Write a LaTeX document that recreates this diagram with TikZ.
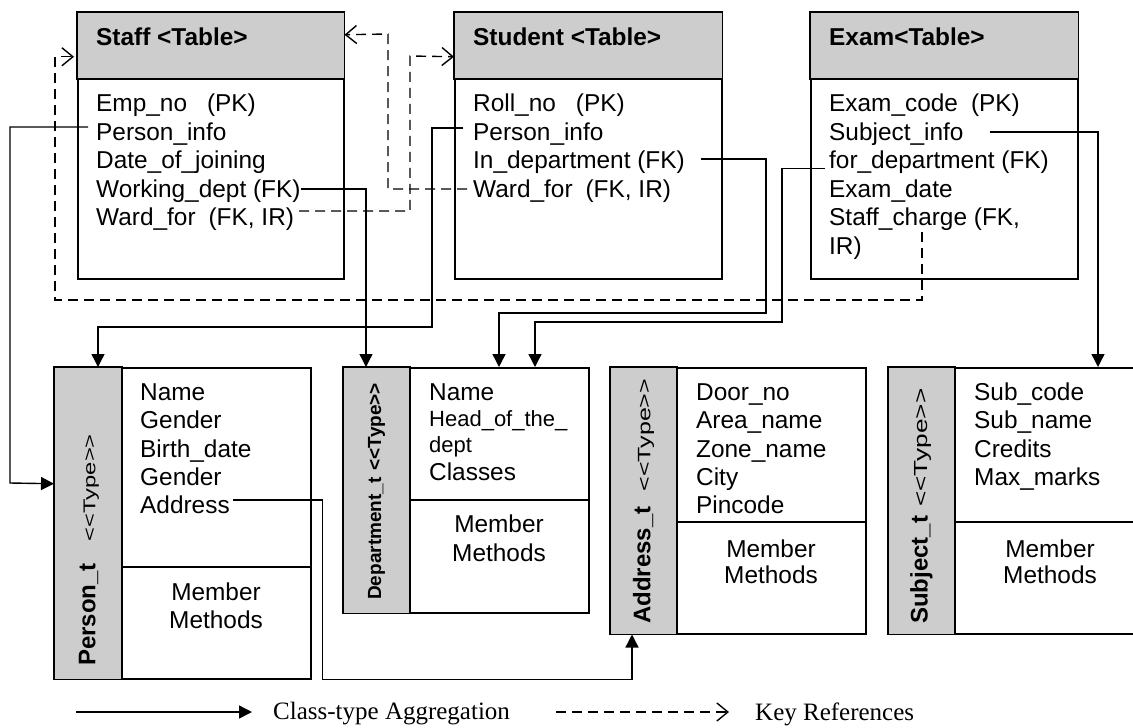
\documentclass[tikz,border=0pt]{standalone}
\usepackage{fontspec}
\usepackage{graphicx}
\setmainfont{Liberation Sans}
\newfontfamily\serifleg{Liberation Serif}
\usetikzlibrary{arrows.meta}
\definecolor{hdrgray}{RGB}{205,205,205}
\tikzset{
  tbl/.style={draw, line width=1.5pt, inner sep=0pt, anchor=north west, fill=white},
  hdrfill/.style={fill=hdrgray, draw=black, line width=1.5pt},
  divider/.style={line width=1.5pt},
  row/.style={anchor=base west, inner sep=0pt, font=\fontsize{24.4}{28}\selectfont},
  smallrow/.style={anchor=base west, inner sep=0pt, font=\fontsize{22}{26}\selectfont},
  hd/.style={anchor=base west, inner sep=0pt, font=\bfseries\fontsize{24.4}{28}\selectfont},
  mm/.style={anchor=base, inner sep=0pt, font=\fontsize{24.4}{28}\selectfont},
  lab/.style={rotate=90, anchor=west, inner sep=0pt},
  legt/.style={anchor=west, inner sep=0pt, font=\serifleg\fontsize{25}{30}\selectfont},
  agg/.style={line width=1.4pt, -{Triangle[length=13pt,width=13pt]}},
  kref/.style={line width=1.4pt, dash pattern=on 10pt off 6pt, -{Straight Barb[length=11pt,width=18pt,line width=1.4pt]}}
}
\newcommand{\typeword}{<\kern0pt<Type>\kern0pt>}
\newcommand{\typetag}[1]{\mdseries\fontsize{#1}{#1}\selectfont\scalebox{1.25}[0.9]{\typeword}}
\begin{document}
\begin{tikzpicture}[x=1pt,y=-1pt]
\useasboundingbox (0,0) rectangle (1133,728);

% ---------- top tables ----------
\node[tbl, minimum width=266pt, minimum height=266pt] (staff) at (77,12) {};
\filldraw[hdrfill] (staff.north west) rectangle ([yshift=-67pt]staff.north east);
\node[tbl, minimum width=267pt, minimum height=266pt] (student) at (454,12) {};
\filldraw[hdrfill] (student.north west) rectangle ([yshift=-67pt]student.north east);
\node[tbl, minimum width=267pt, minimum height=266pt] (exam) at (810,12) {};
\filldraw[hdrfill] (exam.north west) rectangle ([yshift=-67pt]exam.north east);

\node[hd] (staffh) at (96,45) {Staff <Table>};
\node[hd] (studenth) at (473,45) {Student <Table>};
\node[hd] (examh) at (829,45) {Exam<Table>};

\node[row] (s1) at (96,111) {Emp\_no\hspace{20pt}(PK)};
\node[row] (s2) at (96,140) {Person\_info};
\node[row] (s3) at (96,168.5) {Date\_of\_joining};
\node[row] (s4) at (96,197) {Working\_dept (FK)};
\node[row] (s5) at (96,225.5) {Ward\_for\hspace{13pt}(FK, IR)};

\node[row] (t1) at (473,111) {Roll\_no\hspace{20pt}(PK)};
\node[row] (t2) at (473,140) {Person\_info};
\node[row] (t3) at (473,168.5) {In\_department (FK)};
\node[row] (t4) at (473,197) {Ward\_for\hspace{13pt}(FK, IR)};

\node[row] (e1) at (829,111) {Exam\_code\hspace{13pt}(PK)};
\node[row] (e2) at (829,140) {Subject\_info};
\node[row] (e3) at (829,168.5) {for\_department (FK)};
\node[row] (e4) at (829,197) {Exam\_date};
\node[row] (e5) at (829,225.5) {Staff\_charge (FK,};
\node[row] (e6) at (829,254) {IR)};

% ---------- bottom types ----------
\node[tbl, minimum width=256pt, minimum height=311pt] (person) at (54,367) {};
\filldraw[hdrfill] (person.north west) rectangle ([xshift=68pt]person.south west);
\draw[divider] ([xshift=68pt,yshift=-200pt]person.north west) -- ([yshift=-200pt]person.north east);

\node[tbl, minimum width=245pt, minimum height=245pt] (dept) at (343,367) {};
\filldraw[hdrfill] (dept.north west) rectangle ([xshift=67pt]dept.south west);
\draw[divider] ([xshift=67pt,yshift=-133pt]dept.north west) -- ([yshift=-133pt]dept.north east);

\node[tbl, minimum width=255pt, minimum height=266pt] (address) at (610,367) {};
\filldraw[hdrfill] (address.north west) rectangle ([xshift=67pt]address.south west);
\draw[divider] ([xshift=67pt,yshift=-155pt]address.north west) -- ([yshift=-155pt]address.north east);

\node[tbl, minimum width=252pt, minimum height=266pt] (subject) at (888,367) {};
\filldraw[hdrfill] (subject.north west) rectangle ([xshift=67pt]subject.south west);
\draw[divider] ([xshift=67pt,yshift=-155pt]subject.north west) -- ([yshift=-155pt]subject.north east);

% vertical labels
\node[lab] (personlab) at (89,666) {\bfseries\fontsize{24}{24}\selectfont Person\_t\hspace{22pt}\typetag{19}};
\node[lab] (deptlab) at (376.5,600) {\bfseries\fontsize{19}{19}\selectfont Department\_t\hspace{7pt}\typeword};
\node[lab] (addresslab) at (643.5,624) {\bfseries\fontsize{24}{24}\selectfont Address\_t\hspace{15pt}\typetag{20}};
\node[lab] (subjectlab) at (921.5,624) {\bfseries\fontsize{24}{24}\selectfont Subject\_t\hspace{9pt}\typetag{21}};

% person rows
\node[row] (p1) at (140,400) {Name};
\node[row] (p2) at (140,428) {Gender};
\node[row] (p3) at (140,457) {Birth\_date};
\node[row] (p4) at (140,485) {Gender};
\node[row] (p5) at (140,513) {Address};
\node[mm] (pm1) at (216,600) {Member};
\node[mm] (pm2) at (216,628) {Methods};

% department rows
\node[row] (d1) at (429,400) {Name};
\node[smallrow] (d2) at (429,426) {Head\_of\_the\_};
\node[smallrow] (d3) at (429,452) {dept};
\node[row] (d4) at (429,480) {Classes};
\node[mm] (dm1) at (499,532) {Member};
\node[mm] (dm2) at (499,561) {Methods};

% address rows
\node[row] (a1) at (696,400) {Door\_no};
\node[row] (a2) at (696,428) {Area\_name};
\node[row] (a3) at (696,457) {Zone\_name};
\node[row] (a4) at (696,485) {City};
\begin{scope}
\clip (677,367) rectangle (865,514);
\node[row] (a5) at (696,513) {Pincode};
\end{scope}
\node[mm] (am1) at (771,557) {Member};
\node[mm] (am2) at (771,583) {Methods};

% subject rows
\node[row] (b1) at (974,400) {Sub\_code};
\node[row] (b2) at (974,428) {Sub\_name};
\node[row] (b3) at (974,457) {Credits};
\node[row] (b4) at (974,485) {Max\_marks};
\node[mm] (bm1) at (1050,557) {Member};
\node[mm] (bm2) at (1050,583) {Methods};

% ---------- class-type aggregation connectors ----------
\draw[agg] ([xshift=-8pt,yshift=13pt]s2.base west) -| (10,483) -- ([yshift=39.5pt]person.west);
\draw[agg] ([yshift=8pt]s4.base east) -| ([xshift=23pt]dept.north west);
\draw[agg] ([xshift=-10pt,yshift=12pt]t2.base west) -| (432,327) -| ([xshift=44pt]person.north west);
\draw[agg] ([xshift=16pt,yshift=9.5pt]t3.base east) -| (766,313) -| ([xshift=156pt]dept.north west);
\draw[agg] ([xshift=-4pt]e3.base west) -| (782,322) -| ([xshift=192pt]dept.north west);
\draw[agg] ([xshift=26pt,yshift=8pt]e2.base east) -| ([xshift=210pt]subject.north west);
\draw[agg] ([xshift=3pt,yshift=13pt]p5.base east) -| ([xshift=11pt]person.south east) -| ([xshift=22pt]address.south west);

% ---------- key reference connectors ----------
\draw[kref] ([xshift=5pt,yshift=14.5pt]s5.base east) -| (410,56) -- ([yshift=89pt]student.west);
\draw[kref] ([xshift=-6pt,yshift=8pt]t4.base west) -| (388,34) -- ([yshift=111pt]staff.east);
\draw[kref, shorten >=3pt] ([xshift=93pt,yshift=-6.5pt]e5.base west) |- (55,300) |- ([yshift=89pt]staff.west);

% ---------- legend ----------
\coordinate (l1s) at (76,712);
\coordinate (l1e) at (252,712);
\node[legt] (l1t) at (273,714) {Class-type Aggregation};
\draw[agg] (l1s) -- (l1e);
\coordinate (l2s) at (556,712);
\coordinate (l2e) at (729,712);
\node[legt] (l2t) at (755,714) {Key References};
\draw[kref] (l2s) -- (l2e);
\end{tikzpicture}
\end{document}
